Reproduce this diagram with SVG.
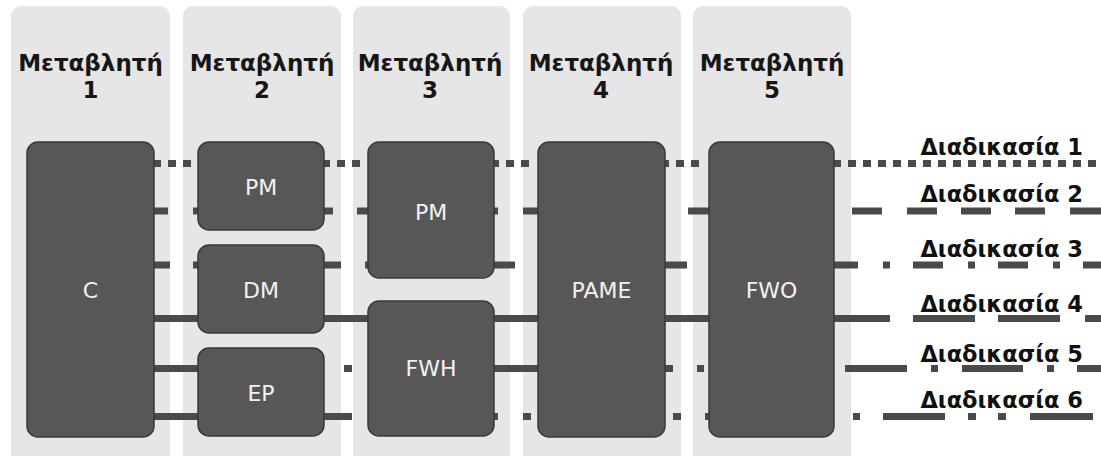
<svg xmlns="http://www.w3.org/2000/svg" width="1101" height="456" viewBox="0 0 1101 456">
<style>
.col{fill:#e6e6e6}
.hdr{font-family:"DejaVu Sans",Verdana,sans-serif;font-weight:bold;font-size:23px;fill:#161616;text-anchor:middle}
.node{fill:#575757;stroke:#3a3a3a;stroke-width:1.5}
.lbl{font-family:"DejaVu Sans",Verdana,sans-serif;font-size:22px;fill:#f2f2f2;text-anchor:middle}
.ln{fill:none;stroke:#4a4a4a;stroke-width:7}
.dot{stroke-dasharray:8 7}
.proc{font-family:"DejaVu Sans",Verdana,sans-serif;font-weight:bold;font-size:22.5px;fill:#111;text-anchor:end}
</style>
<rect width="1101" height="456" fill="#ffffff"/>
<g id="columns">
<rect class="col" x="11" y="6" width="159" height="470" rx="10"/>
<rect class="col" x="183" y="6" width="158" height="470" rx="10"/>
<rect class="col" x="353" y="6" width="157" height="470" rx="10"/>
<rect class="col" x="523" y="6" width="158" height="470" rx="10"/>
<rect class="col" x="693" y="6" width="158" height="470" rx="10"/>
<text class="hdr" x="90.5" y="70.5">Μεταβλητή</text>
<text class="hdr" x="90.5" y="98">1</text>
<text class="hdr" x="262" y="70.5">Μεταβλητή</text>
<text class="hdr" x="262" y="98">2</text>
<text class="hdr" x="430" y="70.5">Μεταβλητή</text>
<text class="hdr" x="430" y="98">3</text>
<text class="hdr" x="601" y="70.5">Μεταβλητή</text>
<text class="hdr" x="601" y="98">4</text>
<text class="hdr" x="772" y="70.5">Μεταβλητή</text>
<text class="hdr" x="772" y="98">5</text>
</g>
<g id="connectors">
<path class="ln dot" d="M153 163.5H198M322 163.5H367M491 163.5H536M661 163.5H706M833 163.5H1101"/>
<path class="ln" d="M148 211H168M193 211H200M320 211H333M357 211H370M490 211H498M523 211H540M688 211H711M852 211H882M907 211H937M961 211H991M1015 211H1045M1070 211H1101"/>
<path class="ln" d="M150 265H170M193 265H200M320 265H341M365 265H370M490 265H515M661 265H687M830 265H858M883 265H890M913 265H943M968 265H975M998 265H1028M1053 265H1060M1083 265H1101"/>
<path class="ln" d="M150 318.5H200M320 318.5H370M490 318.5H540M661 318.5H711M830 318.5H890M913 318.5H975M998 318.5H1060M1085 318.5H1101"/>
<path class="ln" d="M150 368.5H200M344 368.5H352M490 368.5H540M661 368.5H673M697 368.5H704M845 368.5H907M931 368.5H938M962 368.5H1023M1047 368.5H1054M1077 368.5H1101"/>
<path class="ln" d="M150 416.5H200M320 416.5H352M490 416.5H498M523 416.5H531M673 416.5H681M705 416.5H711M853 416.5H860M883 416.5H945M968 416.5H976M998 416.5H1006M1030 416.5H1093"/>
</g>
<g id="node-C"><rect class="node" x="27" y="142" width="127" height="295" rx="11"/><text class="lbl" x="90.5" y="298">C</text></g>
<g id="node-PM2"><rect class="node" x="198" y="142" width="126" height="88" rx="11"/><text class="lbl" x="261" y="195">PM</text></g>
<g id="node-DM"><rect class="node" x="198" y="245" width="126" height="88" rx="11"/><text class="lbl" x="261" y="298">DM</text></g>
<g id="node-EP"><rect class="node" x="198" y="348" width="126" height="88" rx="11"/><text class="lbl" x="261" y="401">EP</text></g>
<g id="node-PM3"><rect class="node" x="368" y="142" width="126" height="136" rx="11"/><text class="lbl" x="431" y="220">PM</text></g>
<g id="node-FWH"><rect class="node" x="368" y="301" width="126" height="135" rx="11"/><text class="lbl" x="431" y="376">FWH</text></g>
<g id="node-PAME"><rect class="node" x="538" y="142" width="127" height="295" rx="11"/><text class="lbl" x="601.5" y="298">PAME</text></g>
<g id="node-FWO"><rect class="node" x="709" y="142" width="125" height="295" rx="11"/><text class="lbl" x="771.5" y="298">FWO</text></g>
<g id="labels">
<text class="proc" x="1083" y="155">Διαδικασία 1</text>
<text class="proc" x="1083" y="202">Διαδικασία 2</text>
<text class="proc" x="1083" y="257">Διαδικασία 3</text>
<text class="proc" x="1083" y="312">Διαδικασία 4</text>
<text class="proc" x="1083" y="362">Διαδικασία 5</text>
<text class="proc" x="1083" y="408">Διαδικασία 6</text>
</g>
</svg>
